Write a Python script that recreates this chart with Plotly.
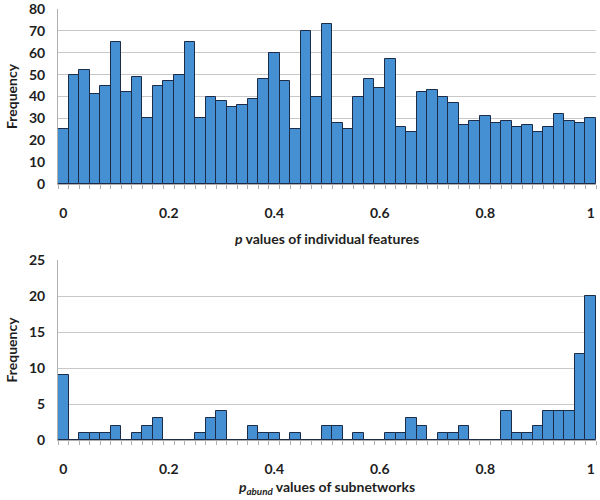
import plotly.graph_objects as go

# 51 bins: 0, 0.02, ..., 1.0
bin_index = list(range(51))
tick_positions = [0, 10, 20, 30, 40, 50]
tick_labels = ["0", "0.2", "0.4", "0.6", "0.8", "1"]

features_freq = [25, 50, 52, 41, 45, 65, 42, 49, 30, 45, 47, 50, 65, 30, 40, 38, 35, 36, 39, 48,
                 60, 47, 25, 70, 40, 73, 28, 25, 40, 48, 44, 57, 26, 24, 42, 43, 40, 37, 27, 29,
                 31, 28, 29, 26, 27, 24, 26, 32, 29, 28, 30]

subnet_freq = [9, 0, 1, 1, 1, 2, 0, 1, 2, 3, 0, 0, 0, 1, 3, 4, 0, 0, 2, 1,
               1, 0, 1, 0, 0, 2, 2, 0, 1, 0, 0, 1, 1, 3, 2, 0, 1, 1, 2, 0,
               0, 0, 4, 1, 1, 2, 4, 4, 4, 12, 20]

BAR = "#4590d2"
EDGE = "#1b2b48"
GRID = "#c8c8c8"
FONT = "Lato"
TXT = "#1e1e1e"

fig = go.Figure()
fig.add_trace(go.Bar(x=bin_index, y=features_freq, xaxis="x", yaxis="y",
                     marker=dict(color=BAR, line=dict(color=EDGE, width=1)), width=1))
fig.add_trace(go.Bar(x=bin_index, y=subnet_freq, xaxis="x2", yaxis="y2",
                     marker=dict(color=BAR, line=dict(color=EDGE, width=1)), width=1))

xcommon = dict(range=[-0.5, 50.5], tickvals=tick_positions, ticktext=tick_labels,
               ticks="", showgrid=False, zeroline=False, showline=True, linecolor="#b0b0b0",
               linewidth=1, ticklabelstandoff=16, automargin=False,
               tickfont=dict(family=FONT, size=14, color=TXT, weight="bold"),
               minor=dict(tick0=-0.5, dtick=1, ticks="outside", ticklen=4, tickcolor="#b0b0b0",
                          showgrid=False))
ycommon = dict(showgrid=True, gridcolor=GRID, gridwidth=1, zeroline=False, showline=True,
               linecolor="#b0b0b0", ticks="", ticklabelstandoff=9, automargin=False,
               ticklabeloverflow="allow",
               tickfont=dict(family=FONT, size=14, color=TXT, weight="bold"))

fig.update_layout(
    width=600, height=500,
    margin=dict(l=58, r=4, t=0, b=0),
    paper_bgcolor="white", plot_bgcolor="white",
    showlegend=False, bargap=0,
    xaxis=dict(xcommon, domain=[0, 1], anchor="y",
               title=dict(text="<i>p</i> values of individual features", standoff=14,
                          font=dict(family=FONT, size=14, color=TXT, weight="bold"))),
    yaxis=dict(ycommon, domain=[0.632, 0.982], anchor="x", range=[0, 80], dtick=10,
               title=dict(text="Frequency", standoff=8,
                          font=dict(family=FONT, size=14, color=TXT, weight="bold"))),
    xaxis2=dict(xcommon, domain=[0, 1], anchor="y2",
                title=dict(text="<i>p</i><sub><i>abund</i></sub> values of subnetworks", standoff=6,
                           font=dict(family=FONT, size=14, color=TXT, weight="bold"))),
    yaxis2=dict(ycommon, domain=[0.12, 0.48], anchor="x2", range=[0, 25], dtick=5,
                title=dict(text="Frequency", standoff=8,
                           font=dict(family=FONT, size=14, color=TXT, weight="bold"))),
)

fig.write_html("out.html", config={"displayModeBar": False},
               post_script="document.body.style.margin='0';document.body.style.overflow='hidden';")
